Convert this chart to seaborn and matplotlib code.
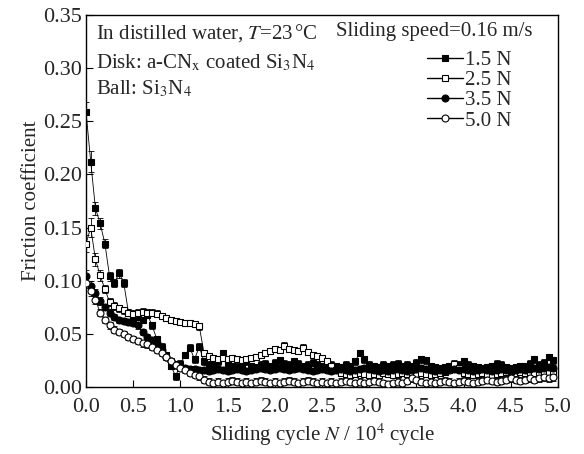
import matplotlib
matplotlib.use("Agg")
import matplotlib.pyplot as plt
from matplotlib.lines import Line2D
import pandas as pd
import seaborn as sns

# Sliding cycle (x 10^4)
cycles = [
    0.00, 0.05, 0.10, 0.15, 0.20, 0.25, 0.30, 0.35, 0.40, 0.45,
    0.50, 0.55, 0.60, 0.65, 0.70, 0.75, 0.80, 0.85, 0.90, 0.95,
    1.00, 1.05, 1.10, 1.15, 1.20, 1.25, 1.30, 1.35, 1.40, 1.45,
    1.50, 1.55, 1.60, 1.65, 1.70, 1.75, 1.80, 1.85, 1.90, 1.95,
    2.00, 2.05, 2.10, 2.15, 2.20, 2.25, 2.30, 2.35, 2.40, 2.45,
    2.50, 2.55, 2.60, 2.65, 2.70, 2.75, 2.80, 2.85, 2.90, 2.95,
    3.00, 3.05, 3.10, 3.15, 3.20, 3.25, 3.30, 3.35, 3.40, 3.45,
    3.50, 3.55, 3.60, 3.65, 3.70, 3.75, 3.80, 3.85, 3.90, 3.95,
    4.00, 4.05, 4.10, 4.15, 4.20, 4.25, 4.30, 4.35, 4.40, 4.45,
    4.50, 4.55, 4.60, 4.65, 4.70, 4.75, 4.80, 4.85, 4.90, 4.95,
]

mu_15 = [
    0.259, 0.212, 0.168, 0.154, 0.135, 0.104, 0.098, 0.107, 0.098, 0.070,
    0.064, 0.066, 0.063, 0.068, 0.058, 0.045, 0.038, 0.030, 0.020, 0.010,
    0.022, 0.030, 0.037, 0.026, 0.038, 0.024, 0.021, 0.022, 0.024, 0.032,
    0.022, 0.020, 0.019, 0.021, 0.024, 0.020, 0.019, 0.021, 0.022, 0.020,
    0.023, 0.025, 0.022, 0.021, 0.024, 0.022, 0.020, 0.021, 0.023, 0.021,
    0.020, 0.022, 0.021, 0.020, 0.019, 0.021, 0.020, 0.024, 0.032, 0.026,
    0.021, 0.020, 0.019, 0.021, 0.020, 0.021, 0.022, 0.020, 0.021, 0.020,
    0.023, 0.026, 0.025, 0.020, 0.019, 0.018, 0.019, 0.020, 0.019, 0.021,
    0.024, 0.021, 0.020, 0.019, 0.018, 0.019, 0.020, 0.022, 0.021, 0.019,
    0.018, 0.019, 0.020, 0.020, 0.022, 0.026, 0.021, 0.023, 0.028, 0.025,
]
err_15 = [
    0.009, 0.010, 0.006, 0.005, 0.004, 0.004, 0.004, 0.004, 0.004, 0.003,
    0.003, 0.003, 0.003, 0.003, 0.003, 0.003, 0.003, 0.003, 0.003, 0.003,
    0.003, 0.003, 0.003, 0.003, 0.003, 0.003, 0.003, 0.003, 0.003, 0.003,
    0.003, 0.003, 0.003, 0.003, 0.003, 0.003, 0.003, 0.003, 0.003, 0.003,
    0.003, 0.003, 0.003, 0.003, 0.003, 0.003, 0.003, 0.003, 0.003, 0.003,
    0.003, 0.003, 0.003, 0.003, 0.003, 0.003, 0.003, 0.003, 0.003, 0.003,
    0.003, 0.003, 0.003, 0.003, 0.003, 0.003, 0.003, 0.003, 0.003, 0.003,
    0.003, 0.003, 0.003, 0.003, 0.003, 0.003, 0.003, 0.003, 0.003, 0.003,
    0.003, 0.003, 0.003, 0.003, 0.003, 0.003, 0.003, 0.003, 0.003, 0.003,
    0.003, 0.003, 0.003, 0.003, 0.003, 0.003, 0.003, 0.003, 0.003, 0.003,
]

mu_25 = [
    0.135, 0.150, 0.120, 0.105, 0.092, 0.080, 0.076, 0.074, 0.072, 0.070,
    0.069, 0.070, 0.071, 0.070, 0.070, 0.069, 0.067, 0.065, 0.063, 0.062,
    0.061, 0.060, 0.060, 0.059, 0.057, 0.032, 0.029, 0.027, 0.026, 0.027,
    0.026, 0.027, 0.026, 0.025, 0.026, 0.027, 0.028, 0.030, 0.032, 0.034,
    0.036, 0.035, 0.039, 0.036, 0.035, 0.034, 0.037, 0.033, 0.030, 0.029,
    0.027, 0.024, 0.020, 0.016, 0.013, 0.012, 0.011, 0.012, 0.013, 0.012,
    0.011, 0.012, 0.011, 0.013, 0.012, 0.011, 0.012, 0.013, 0.012, 0.011,
    0.012, 0.013, 0.012, 0.011, 0.012, 0.013, 0.014, 0.016, 0.022, 0.018,
    0.013, 0.012, 0.011, 0.012, 0.013, 0.012, 0.011, 0.012, 0.013, 0.014,
    0.015, 0.016, 0.014, 0.013, 0.012, 0.013, 0.014, 0.013, 0.014, 0.015,
]
err_25 = [
    0.008, 0.009, 0.006, 0.005, 0.004, 0.004, 0.004, 0.003, 0.003, 0.003,
    0.003, 0.003, 0.003, 0.003, 0.003, 0.003, 0.003, 0.003, 0.003, 0.003,
    0.003, 0.003, 0.003, 0.003, 0.003, 0.003, 0.003, 0.003, 0.003, 0.003,
    0.003, 0.003, 0.003, 0.003, 0.003, 0.003, 0.003, 0.003, 0.003, 0.003,
    0.003, 0.003, 0.003, 0.003, 0.003, 0.003, 0.003, 0.003, 0.003, 0.003,
    0.003, 0.003, 0.003, 0.003, 0.003, 0.003, 0.003, 0.003, 0.003, 0.003,
    0.003, 0.003, 0.003, 0.003, 0.003, 0.003, 0.003, 0.003, 0.003, 0.003,
    0.003, 0.003, 0.003, 0.003, 0.003, 0.003, 0.003, 0.003, 0.003, 0.003,
    0.003, 0.003, 0.003, 0.003, 0.003, 0.003, 0.003, 0.003, 0.003, 0.003,
    0.003, 0.003, 0.003, 0.003, 0.003, 0.003, 0.003, 0.003, 0.003, 0.003,
]

mu_35 = [
    0.104, 0.095, 0.088, 0.081, 0.075, 0.070, 0.066, 0.063, 0.062, 0.061,
    0.060, 0.058, 0.052, 0.047, 0.044, 0.041, 0.035, 0.028, 0.024, 0.021,
    0.019, 0.018, 0.017, 0.017, 0.016, 0.016, 0.015, 0.016, 0.017, 0.016,
    0.015, 0.016, 0.017, 0.016, 0.015, 0.016, 0.017, 0.018, 0.017, 0.016,
    0.017, 0.018, 0.017, 0.016, 0.017, 0.018, 0.017, 0.016, 0.015, 0.016,
    0.017, 0.016, 0.015, 0.016, 0.017, 0.016, 0.015, 0.016, 0.017, 0.018,
    0.017, 0.016, 0.015, 0.016, 0.015, 0.016, 0.017, 0.016, 0.015, 0.016,
    0.017, 0.018, 0.017, 0.016, 0.015, 0.016, 0.015, 0.016, 0.017, 0.016,
    0.017, 0.016, 0.015, 0.016, 0.017, 0.016, 0.015, 0.016, 0.017, 0.016,
    0.015, 0.016, 0.017, 0.016, 0.017, 0.018, 0.017, 0.018, 0.019, 0.018,
]
err_35 = [
    0.006, 0.005, 0.004, 0.004, 0.003, 0.003, 0.003, 0.003, 0.003, 0.003,
    0.003, 0.003, 0.003, 0.003, 0.003, 0.003, 0.003, 0.003, 0.003, 0.003,
    0.003, 0.003, 0.003, 0.003, 0.003, 0.003, 0.003, 0.003, 0.003, 0.003,
    0.003, 0.003, 0.003, 0.003, 0.003, 0.003, 0.003, 0.003, 0.003, 0.003,
    0.003, 0.003, 0.003, 0.003, 0.003, 0.003, 0.003, 0.003, 0.003, 0.003,
    0.003, 0.003, 0.003, 0.003, 0.003, 0.003, 0.003, 0.003, 0.003, 0.003,
    0.003, 0.003, 0.003, 0.003, 0.003, 0.003, 0.003, 0.003, 0.003, 0.003,
    0.003, 0.003, 0.003, 0.003, 0.003, 0.003, 0.003, 0.003, 0.003, 0.003,
    0.003, 0.003, 0.003, 0.003, 0.003, 0.003, 0.003, 0.003, 0.003, 0.003,
    0.003, 0.003, 0.003, 0.003, 0.003, 0.003, 0.003, 0.003, 0.003, 0.003,
]

mu_50 = [
    0.098, 0.090, 0.082, 0.070, 0.063, 0.058, 0.054, 0.052, 0.050, 0.047,
    0.045, 0.043, 0.041, 0.040, 0.038, 0.035, 0.032, 0.028, 0.024, 0.021,
    0.018, 0.016, 0.013, 0.011, 0.010, 0.007, 0.005, 0.004, 0.005, 0.004,
    0.005, 0.006, 0.005, 0.004, 0.005, 0.004, 0.005, 0.006, 0.005, 0.004,
    0.005, 0.004, 0.005, 0.006, 0.005, 0.004, 0.005, 0.006, 0.005, 0.004,
    0.005, 0.004, 0.005, 0.004, 0.005, 0.006, 0.005, 0.004, 0.005, 0.004,
    0.005, 0.006, 0.005, 0.004, 0.003, 0.004, 0.005, 0.004, 0.006, 0.008,
    0.007, 0.005, 0.004, 0.005, 0.004, 0.005, 0.006, 0.005, 0.004, 0.005,
    0.006, 0.005, 0.004, 0.005, 0.006, 0.007, 0.006, 0.005, 0.006, 0.007,
    0.008, 0.007, 0.006, 0.007, 0.008, 0.007, 0.008, 0.009, 0.008, 0.009,
]
err_50 = [
    0.005, 0.004, 0.004, 0.003, 0.003, 0.003, 0.003, 0.003, 0.003, 0.003,
    0.003, 0.003, 0.003, 0.003, 0.003, 0.003, 0.003, 0.003, 0.003, 0.003,
    0.003, 0.003, 0.003, 0.003, 0.003, 0.003, 0.003, 0.003, 0.003, 0.003,
    0.003, 0.003, 0.003, 0.003, 0.003, 0.003, 0.003, 0.003, 0.003, 0.003,
    0.003, 0.003, 0.003, 0.003, 0.003, 0.003, 0.003, 0.003, 0.003, 0.003,
    0.003, 0.003, 0.003, 0.003, 0.003, 0.003, 0.003, 0.003, 0.003, 0.003,
    0.003, 0.003, 0.003, 0.003, 0.003, 0.003, 0.003, 0.003, 0.003, 0.003,
    0.003, 0.003, 0.003, 0.003, 0.003, 0.003, 0.003, 0.003, 0.003, 0.003,
    0.003, 0.003, 0.003, 0.003, 0.003, 0.003, 0.003, 0.003, 0.003, 0.003,
    0.003, 0.003, 0.003, 0.003, 0.003, 0.003, 0.003, 0.003, 0.003, 0.003,
]

loads = ["1.5 N", "2.5 N", "3.5 N", "5.0 N"]
x_ticks = [0.0, 0.5, 1.0, 1.5, 2.0, 2.5, 3.0, 3.5, 4.0, 4.5, 5.0]
y_ticks = [0.00, 0.05, 0.10, 0.15, 0.20, 0.25, 0.30, 0.35]

series = [
    (loads[0], mu_15, err_15, "s", "black"),
    (loads[1], mu_25, err_25, "s", "white"),
    (loads[2], mu_35, err_35, "o", "black"),
    (loads[3], mu_50, err_50, "o", "white"),
]

sns.set_theme(style="ticks")
plt.rcParams["font.family"] = ["Liberation Serif", "DejaVu Serif"]
plt.rcParams["mathtext.fontset"] = "stix"
plt.rcParams["xtick.direction"] = "in"
plt.rcParams["ytick.direction"] = "in"

FS = 15        # annotations, axis labels, legend
FS_TICK = 16   # tick labels

fig = plt.figure(figsize=(5.84, 4.54), dpi=100)
ax = fig.add_axes([86 / 584, 1 - 387 / 454, (558 - 86) / 584, (387 - 15) / 454])

handles = []
for name, mu, err, mk, face in series:
    df = pd.DataFrame({"cycle": cycles, "mu": mu})
    sns.lineplot(data=df, x="cycle", y="mu", ax=ax, color="black", lw=0.6,
                 marker=mk, markersize=5, markerfacecolor=face,
                 markeredgecolor="black", markeredgewidth=0.8, zorder=3)
    ax.errorbar(cycles, mu, yerr=err, fmt="none", ecolor="black",
                elinewidth=0.6, capsize=2.5, capthick=0.6, zorder=2)
    handles.append(Line2D([], [], color="black", lw=1.0, marker=mk,
                          markersize=5, markerfacecolor=face,
                          markeredgecolor="black", markeredgewidth=0.8,
                          label=name))

ax.set_xlim(0, 5.0)
ax.set_ylim(0, 0.35)
ax.set_xticks(x_ticks)
ax.set_yticks(y_ticks)
ax.set_xticklabels([f"{t:.1f}" for t in x_ticks], fontsize=FS_TICK)
ax.set_yticklabels([f"{t:.2f}" for t in y_ticks], fontsize=FS_TICK)
ax.tick_params(length=5, width=0.8, color="black")
ax.tick_params(axis="x", pad=8)
ax.tick_params(axis="y", pad=3)
for sp in ax.spines.values():
    sp.set_linewidth(1.0)
    sp.set_color("black")

ax.set_xlabel(r"Sliding cycle $N$ / 10$^4$ cycle", fontsize=FS, labelpad=3)
ax.set_ylabel("Friction coefficient", fontsize=FS, labelpad=1)

ax.text(0.022, 0.98, r"In distilled water, $T$=23$\,$°C", transform=ax.transAxes,
        fontsize=FS, va="top", ha="left")
ax.text(0.022, 0.90, r"Disk: a-CN$_\mathrm{x}$ coated Si$_3$N$_4$",
        transform=ax.transAxes, fontsize=FS, va="top", ha="left")
ax.text(0.022, 0.83, r"Ball: Si$_3$N$_4$", transform=ax.transAxes,
        fontsize=FS, va="top", ha="left")
ax.text(0.53, 0.98, "Sliding speed=0.16 m/s", transform=ax.transAxes,
        fontsize=FS, va="top", ha="left")

ax.legend(handles=handles, loc="upper left", bbox_to_anchor=(0.723, 0.905),
          frameon=False, fontsize=FS, handlelength=1.7, handletextpad=0.1,
          labelspacing=0.03, borderpad=0.0, borderaxespad=0.0)

fig.savefig("out.png", dpi=100)
